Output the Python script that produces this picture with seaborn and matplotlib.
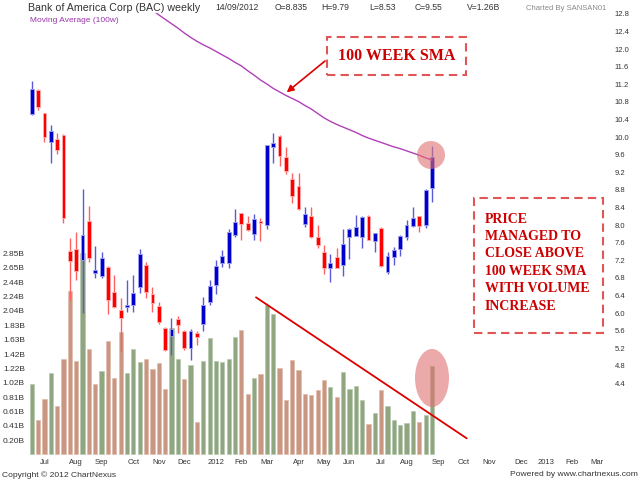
import numpy as np
import pandas as pd
import matplotlib
matplotlib.use("Agg")
import matplotlib.pyplot as plt
import seaborn as sns
from matplotlib.patches import Ellipse, Rectangle

# -------------------------------
# Weekly BAC data
# -------------------------------
start_date = "2011-07-01"

opens = [10.53, 11.07, 10.54, 9.88, 9.96, 10.04, 7.41, 7.46, 7.21, 8.10,
         6.91, 6.85, 7.06, 6.48, 6.07, 6.15, 6.19, 6.59, 7.10, 6.44,
         6.17, 5.67, 5.49, 5.86, 5.60, 5.20, 5.54, 5.76, 6.26, 6.64,
         7.13, 7.13, 7.78, 8.27, 8.04, 7.79, 8.10, 8.01, 9.78, 10.03,
         9.54, 9.04, 8.88, 8.02, 8.22, 7.73, 7.38, 7.03, 7.28, 7.10,
         7.73, 7.76, 7.74, 8.21, 7.64, 7.94, 6.94, 7.28, 7.46, 7.73,
         7.98, 8.21, 8.01, 8.835]
highs = [11.28, 11.10, 10.56, 10.28, 10.09, 10.07, 7.72, 7.85, 8.82, 8.44,
         7.53, 7.39, 7.08, 6.87, 6.34, 6.76, 6.87, 7.45, 7.17, 6.59,
         6.25, 5.68, 5.88, 5.94, 5.62, 5.64, 5.60, 6.36, 6.76, 7.21,
         7.44, 7.91, 8.36, 8.28, 8.21, 8.25, 8.17, 9.83, 10.09, 10.05,
         9.78, 9.18, 9.18, 8.41, 8.41, 8.01, 7.55, 7.34, 7.48, 7.91,
         7.93, 8.23, 8.20, 8.23, 7.82, 7.97, 7.40, 7.50, 7.77, 8.12,
         8.41, 8.22, 8.82, 9.79]
lows = [10.50, 10.62, 9.88, 9.41, 9.62, 8.04, 6.30, 6.76, 6.01, 7.17,
        6.81, 6.81, 5.99, 6.12, 5.13, 6.03, 6.03, 6.45, 6.34, 6.03,
        5.76, 5.13, 5.05, 5.54, 5.16, 4.94, 5.28, 5.60, 6.19, 6.44,
        7.04, 7.02, 7.74, 7.66, 7.87, 7.66, 7.65, 7.91, 9.41, 9.35,
        9.16, 8.50, 8.35, 7.95, 7.70, 7.48, 6.89, 6.72, 7.02, 6.85,
        7.23, 7.75, 7.48, 7.66, 7.40, 7.05, 6.89, 7.10, 7.30, 7.66,
        7.97, 7.85, 7.93, 8.53]
closes = [11.10, 10.69, 10.00, 10.13, 9.71, 8.17, 7.19, 6.97, 7.77, 7.26,
          6.99, 7.25, 6.31, 6.13, 5.90, 6.19, 6.45, 7.35, 6.49, 6.23,
          5.80, 5.16, 5.64, 5.73, 5.20, 5.60, 5.47, 6.19, 6.62, 7.07,
          7.30, 7.85, 8.08, 8.02, 7.88, 8.13, 8.06, 9.82, 9.86, 9.57,
          9.24, 8.67, 8.36, 8.26, 7.74, 7.55, 7.02, 7.15, 7.03, 7.57,
          7.91, 7.96, 8.18, 7.66, 7.82, 7.07, 7.30, 7.44, 7.76, 8.01,
          8.17, 7.98, 8.80, 9.55]
volumes_b = [1.00, 0.49, 0.78, 1.16, 0.69, 1.35, 2.32, 1.32, 2.85, 1.49,
             1.00, 1.18, 1.61, 1.08, 1.73, 1.15, 1.50, 1.31, 1.35, 1.21,
             1.29, 0.93, 1.79, 1.36, 1.07, 1.27, 0.46, 1.33, 1.65, 1.32,
             1.31, 1.35, 1.66, 1.77, 0.86, 1.09, 1.14, 2.12, 1.99, 1.23,
             0.77, 1.34, 1.20, 0.86, 0.84, 0.92, 1.05, 0.96, 0.81, 1.17,
             0.93, 0.97, 0.77, 0.43, 0.59, 0.91, 0.68, 0.49, 0.41, 0.45,
             0.62, 0.46, 0.56, 1.26]
sma_100w = [14.80, 14.70, 14.60, 14.50, 14.40, 14.30, 14.20, 14.10, 14.00, 13.90,
            13.80, 13.70, 13.60, 13.50, 13.40, 13.30, 13.19, 13.09, 12.99, 12.89,
            12.78, 12.68, 12.58, 12.48, 12.37, 12.27, 12.18, 12.10, 12.03, 11.95,
            11.87, 11.79, 11.70, 11.62, 11.51, 11.41, 11.30, 11.21, 11.11, 11.03,
            10.95, 10.88, 10.81, 10.72, 10.64, 10.54, 10.44, 10.36, 10.29, 10.23,
            10.17, 10.11, 10.04, 9.98, 9.93, 9.88, 9.83, 9.78, 9.74, 9.69,
            9.64, 9.59, 9.53, 9.48]

vol_tick_labels = ["0.20B", "0.41B", "0.61B", "0.81B", "1.02B", "1.22B", "1.42B",
                   "1.63B", "1.83B", "2.04B", "2.24B", "2.44B", "2.65B", "2.85B"]
price_ticks = [4.4, 4.8, 5.2, 5.6, 6.0, 6.4, 6.8, 7.2, 7.6, 8.0, 8.4,
               8.8, 9.2, 9.6, 10.0, 10.4, 10.8, 11.2, 11.6, 12.0, 12.4, 12.8]

box_text = "PRICE\nMANAGED TO\nCLOSE ABOVE\n100 WEEK SMA\nWITH VOLUME\nINCREASE"

# -------------------------------
# Build frame
# -------------------------------
weeks = pd.date_range(start_date, periods=len(closes), freq="W-FRI")
df = pd.DataFrame({"week": weeks, "open": opens, "high": highs, "low": lows,
                   "close": closes, "volume": volumes_b, "sma": sma_100w})
df["idx"] = np.arange(len(df))
prev_close = df["close"].shift(1).fillna(0)
df["vdir"] = np.where(df["close"] >= prev_close, "up", "down")
up = df["close"] >= df["open"]

# month labels sit on the 3rd Friday of each month
month_days = pd.date_range(start_date, "2013-03-31", freq="WOM-3FRI")
month_pos = [(d - weeks[0]).days / 7 for d in month_days]
month_lbl = [str(d.year) if d.month == 1 else d.strftime("%b") for d in month_days]

# -------------------------------
# Plot
# -------------------------------
sns.set_style("white")
plt.rcParams["font.family"] = ["Liberation Sans", "DejaVu Sans"]

fig = plt.figure(figsize=(6.4, 4.8), dpi=100)
ax = fig.add_axes([27 / 640, 24 / 480, 584 / 640, 443 / 480])

# volume bars
vol_pal = {"up": "#8fa680", "down": "#c99682"}
vol_edge = {"up": "#b8c8ae", "down": "#e0bcae"}
ax.bar(df["idx"], df["volume"], width=0.66,
       color=[vol_pal[v] for v in df["vdir"]],
       edgecolor=[vol_edge[v] for v in df["vdir"]], linewidth=0.5, zorder=2)
ax.set_xlim(-0.74, 91.17)
ax.set_ylim(-0.0227, 6.261)

ax2 = ax.twinx()
ax2.set_ylim(2.7545, 12.8227)

# candles
wick_col = np.where(up, "#5a5ad8", "#ff6060")
body_col = np.where(up, "#0000cc", "#ff0000")
edge_col = np.where(up, "#a0a0f0", "#ffb0b0")
ax2.vlines(df["idx"], df["low"], df["high"], colors=wick_col, lw=1, zorder=2)
body_lo = np.minimum(df["open"], df["close"])
body_h = np.maximum((df["close"] - df["open"]).abs(), 0.04)
ax2.bar(df["idx"], body_h, bottom=body_lo, width=0.6, color=body_col,
        edgecolor=edge_col, linewidth=0.6, zorder=3)

# 100 week moving average
sns.lineplot(data=df, x="idx", y="sma", ax=ax2, color="#b040b8", lw=1, zorder=4)

# axes cosmetics
for a in (ax, ax2):
    for s in a.spines.values():
        s.set_visible(False)
    a.set_xlabel("")
    a.set_ylabel("")
ax.set_xticks(month_pos)
ax.set_xticklabels(month_lbl)
ax.set_yticks([float(t[:-1]) for t in vol_tick_labels])
ax.set_yticklabels(vol_tick_labels)
ax.tick_params(axis="x", length=0, pad=2, labelsize=5.5, labelcolor="#333333")
ax.tick_params(axis="y", length=0, pad=1.5, labelsize=6, labelcolor="#333333")
ax2.set_yticks(price_ticks)
ax2.set_yticklabels([f"{p:.1f}" for p in price_ticks])
ax2.tick_params(axis="y", length=0, pad=2.5, labelsize=5.5, labelcolor="#333333")

# -------------------------------
# Annotations
# -------------------------------
ax2.add_patch(Ellipse((62.84, 9.595), 4.41, 0.636, color="#e07070", alpha=0.6, lw=0, zorder=5))
ax.add_patch(Ellipse((63.0, 1.084), 5.35, 0.823, color="#e07070", alpha=0.6, lw=0, zorder=5))
ax.plot([35.3, 68.46], [2.228, 0.228], color="#dd0000", lw=1.3, zorder=6)

ax2.add_patch(Rectangle((46.5, 11.414), 21.85, 0.863, fill=False, edgecolor="#e05555",
                        lw=1.5, linestyle=(0, (4, 2.5)), zorder=6))
ax2.text(57.4, 11.845, "100 WEEK SMA", ha="center", va="center", color="#cc0000",
         fontsize=11.5, fontweight="bold", family="Liberation Serif", zorder=6)
ax2.annotate("", xy=(40.13, 11.02), xytext=(46.16, 11.732),
             arrowprops=dict(arrowstyle="-|>", color="#dd0000", lw=1.2,
                             mutation_scale=10, shrinkA=0, shrinkB=0), zorder=6)

ax2.add_patch(Rectangle((69.61, 5.55), 20.3, 3.068, fill=False, edgecolor="#e05555",
                        lw=1.5, linestyle=(0, (4, 2.5)), zorder=6, clip_on=False))
ax2.text(71.34, 7.152, box_text, ha="left", va="center", color="#cc0000",
         fontsize=10, fontweight="bold", family="Liberation Serif",
         linespacing=1.44, zorder=6)

# -------------------------------
# Header / footer texts
# -------------------------------
def fx(px):
    return px / 640

def fy(py):
    return 1 - py / 480

hdr = "#333333"
fig.text(fx(28), fy(8), "Bank of America Corp (BAC) weekly", fontsize=7.7, color=hdr, va="center")
fig.text(fx(215), fy(8), weeks[-1].strftime("%d/%m/%Y"), fontsize=6.2, color=hdr, va="center")
fig.text(fx(275), fy(8), f"O={opens[-1]}", fontsize=6.2, color=hdr, va="center")
fig.text(fx(321), fy(8), f"H={highs[-1]}", fontsize=6.2, color=hdr, va="center")
fig.text(fx(369), fy(8), f"L={lows[-1]}", fontsize=6.2, color=hdr, va="center")
fig.text(fx(415), fy(8), f"C={closes[-1]}", fontsize=6.2, color=hdr, va="center")
fig.text(fx(467), fy(8), f"V={volumes_b[-1]}B", fontsize=6.2, color=hdr, va="center")
fig.text(fx(526), fy(8), "Charted By SANSAN01", fontsize=5.5, color="#888888", va="center")
fig.text(fx(30), fy(21), "Moving Average (100w)", fontsize=6, color="#9933aa", va="center")
fig.text(fx(2), fy(475), "Copyright \u00a9 2012 ChartNexus", fontsize=6.1, color=hdr, va="center")
fig.text(fx(638), fy(475), "Powered by www.chartnexus.com", fontsize=6.1, color=hdr,
         va="center", ha="right")

fig.savefig("out.png", dpi=100)
